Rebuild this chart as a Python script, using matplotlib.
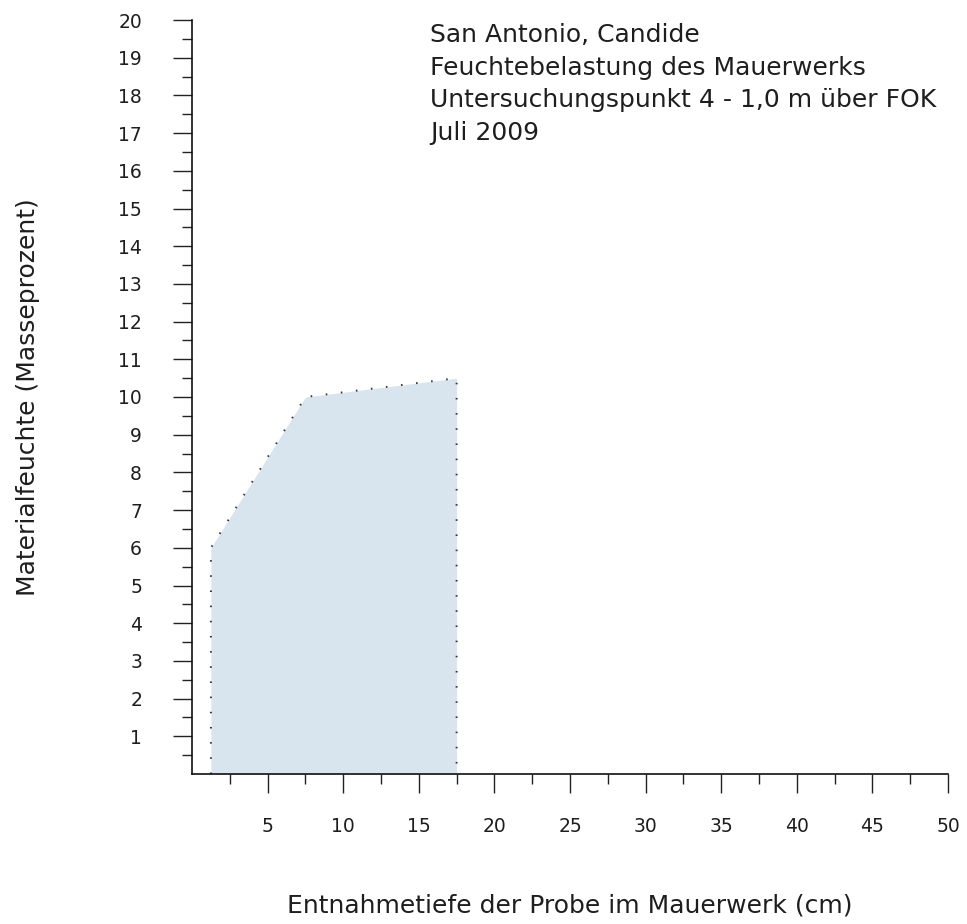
import matplotlib
matplotlib.use('agg')
import matplotlib.pyplot as plt  # noqa

# Sampling depth (cm) and measured moisture (mass percent)
depth = [1.25, 7.5, 17.5]
moisture = [6.0, 10.0, 10.5]

title_lines = [
    'San Antonio, Candide',
    'Feuchtebelastung des Mauerwerks',
    'Untersuchungspunkt 4 - 1,0 m über FOK',
    'Juli 2009',
]
x_ticks = [5, 10, 15, 20, 25, 30, 35, 40, 45, 50]
y_ticks = list(range(1, 21))

plt.rcParams['font.family'] = ['DejaVu Sans']
TEXT = '#1e1e1e'

W, H = 967, 924
fig = plt.figure(figsize=(W / 100, H / 100), dpi=100)
ax = fig.add_axes([192 / W, 1 - 774 / H, (948 - 192) / W, (774 - 20) / H])

ax.fill_between(depth, moisture, 0, color='#d8e4ee', linewidth=0)
ax.plot([depth[0]] + depth + [depth[-1]], [0] + moisture + [0],
        color='#333333', linewidth=1.4, linestyle=(0, (0.8, 7.0)),
        dash_capstyle='butt')

ax.set_xlim(0, 50)
ax.set_ylim(0, 20)
ax.set_xticks(x_ticks)
ax.set_xticks([t - 2.5 for t in x_ticks], minor=True)
ax.set_yticks(y_ticks)
ax.set_yticks([t - 0.5 for t in y_ticks], minor=True)

for side in ['top', 'right']:
    ax.spines[side].set_visible(False)
for side in ['left', 'bottom']:
    ax.spines[side].set_linewidth(1.2)
    ax.spines[side].set_color('#111111')

ax.tick_params(which='major', direction='out', length=14, width=1.0,
               color='#222222', labelsize=13.5, labelcolor=TEXT)
ax.tick_params(which='minor', direction='out', length=7, width=1.0,
               color='#222222')
ax.tick_params(axis='x', which='major', pad=17)
ax.tick_params(axis='y', which='major', pad=22)

for i, line in enumerate(title_lines):
    fig.text(430 / W, 1 - (42 + i * 32.7) / H, line, fontsize=18,
             color=TEXT, va='baseline', ha='left')

fig.text(570 / W, 1 - 913 / H, 'Entnahmetiefe der Probe im Mauerwerk (cm)',
         fontsize=18, color=TEXT, ha='center', va='baseline')
fig.text(28 / W, 1 - 397 / H, 'Materialfeuchte (Masseprozent)',
         fontsize=18, color=TEXT, ha='center', va='center', rotation=90)

fig.savefig('out.png', dpi=100)
